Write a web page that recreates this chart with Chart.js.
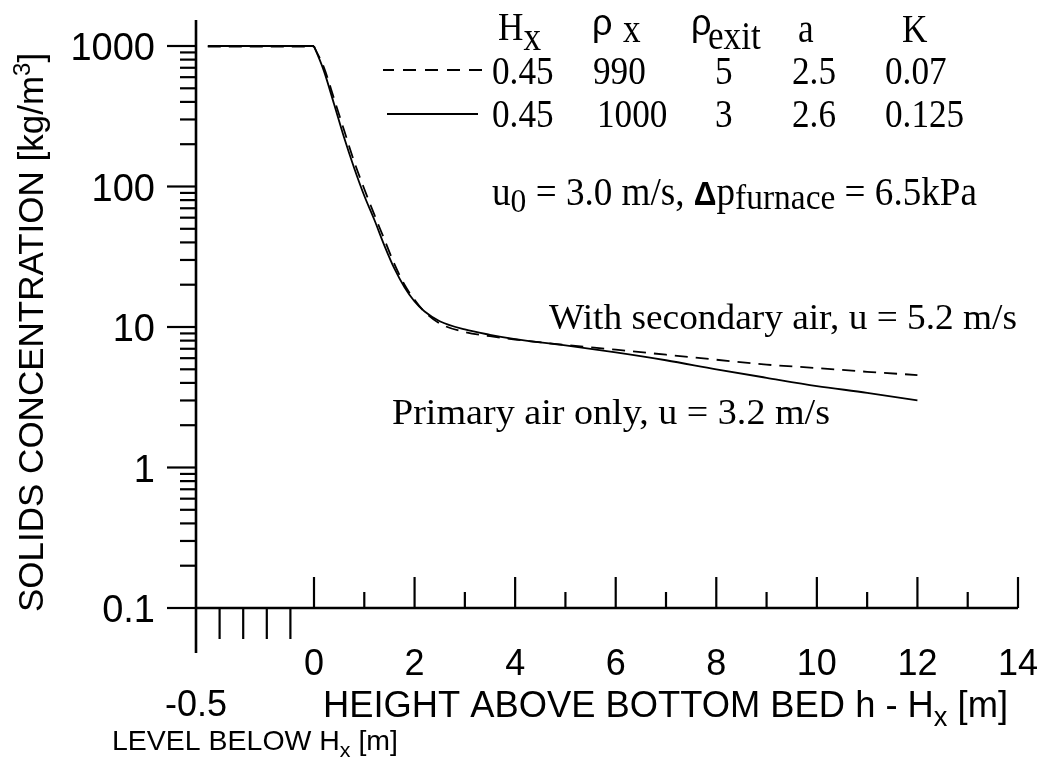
<!DOCTYPE html>
<html>
<head>
<meta charset="utf-8">
<script src="https://cdn.jsdelivr.net/npm/chart.js@4/dist/chart.umd.min.js"></script>
<style>
  html, body { margin: 0; padding: 0; background: #fff; }
  #wrap { width: 1054px; height: 760px; }
</style>
</head>
<body>
<div id="wrap"><canvas id="c" width="1054" height="760"></canvas></div>
<script>
// ---- data -------------------------------------------------------------
// dense bottom bed (below H_x), height relative to H_x in m
const bedHeights = [-0.45, 0];
// freeboard, h - H_x in m
const heights = [0, 0.2, 0.4, 0.6, 0.8, 1.0, 1.2, 1.4, 1.6, 1.8, 2.0, 2.2, 2.5, 3.0, 3.5, 4.0, 5.0, 6.0, 7.0, 8.0, 9.0, 10.0, 11.0, 12.0];

// secondary air case (dashed), kg/m3
const secondaryBed = [990, 990];
const secondaryConc = [990, 700, 420, 250, 150, 96, 63, 42, 28, 20, 15.6, 12.8, 10.6, 9.2, 8.6, 8.15, 7.45, 6.9, 6.35, 5.85, 5.4, 5.1, 4.8, 4.55];

// primary air only (solid), kg/m3
const primaryBed = [1000, 1000];
const primaryConc = [1000, 660, 385, 222, 135, 86, 58, 38, 26, 19.2, 15.2, 12.9, 11.0, 9.6, 8.8, 8.2, 7.4, 6.6, 5.8, 5.0, 4.35, 3.8, 3.4, 3.0];

// axis ticks
const yMajorTicks = [0.1, 1, 10, 100, 1000];
const yTickLabels = ['0.1', '1', '10', '100', '1000'];
const xMajorTicks = [0, 2, 4, 6, 8, 10, 12, 14];
const xTickLabels = ['0', '2', '4', '6', '8', '10', '12', '14'];
const xMinorTicks = [1, 3, 5, 7, 9, 11, 13];
const bedTicks = [-0.4, -0.3, -0.2, -0.1];

// parameter table
const colHx = ['0.45', '0.45'];
const colRhoX = ['990', '1000'];
const colRhoExit = ['5', '3'];
const colA = ['2.5', '2.6'];
const colK = ['0.07', '0.125'];

const SANS = '"Liberation Sans", Arial, Helvetica, sans-serif';
const SERIF = '"Liberation Serif", "Times New Roman", Times, serif';

// ---- x scale: bed region (-0.5..0) stretched, freeboard (0..14) linear --
class SplitLinearScale extends Chart.LinearScale {
  static id = 'splitLinear';
  _breakPx() {
    const f = this.options.breakFraction ?? 0.15;
    return this.left + (this.right - this.left) * f;
  }
  getPixelForValue(value) {
    const b = this.options.breakValue ?? 0;
    const bx = this._breakPx();
    if (value <= b) {
      return this.left + (value - this.min) / (b - this.min) * (bx - this.left);
    }
    return bx + (value - b) / (this.max - b) * (this.right - bx);
  }
  getValueForPixel(pixel) {
    const b = this.options.breakValue ?? 0;
    const bx = this._breakPx();
    if (pixel <= bx) {
      return this.min + (pixel - this.left) / (bx - this.left) * (b - this.min);
    }
    return b + (pixel - bx) / (this.right - bx) * (this.max - b);
  }
}
Chart.register(SplitLinearScale);

const pts = (xs, ys) => xs.map((x, i) => ({ x, y: ys[i] }));

// ---- text helper: runs of [text, font, dy] drawn left to right ----------
function drawRich(ctx, parts, x, y, opt = {}) {
  const align = opt.align || 'left';
  ctx.save();
  let w = 0;
  for (const p of parts) { ctx.font = p[1]; w += ctx.measureText(p[0]).width; }
  const sx = opt.width ? opt.width / w : (opt.scaleX || 1);
  ctx.translate(x, y);
  if (opt.rotate) ctx.rotate(opt.rotate);
  ctx.scale(sx, 1);
  let cx = align === 'right' ? -w : align === 'center' ? -w / 2 : 0;
  ctx.textAlign = 'left';
  ctx.textBaseline = 'alphabetic';
  ctx.fillStyle = '#000';
  for (const p of parts) {
    ctx.font = p[1];
    ctx.fillText(p[0], cx, p[2] || 0);
    cx += ctx.measureText(p[0]).width;
  }
  ctx.restore();
}

function seg(ctx, x1, y1, x2, y2) {
  ctx.beginPath(); ctx.moveTo(x1, y1); ctx.lineTo(x2, y2); ctx.stroke();
}

// ---- axes, ticks and labels --------------------------------------------
const axesPlugin = {
  id: 'axesFrame',
  afterDraw(chart) {
    const { ctx } = chart;
    const xs = chart.scales.x, ys = chart.scales.y;
    const ax = xs.getPixelForValue(-0.5);
    const ay = ys.getPixelForValue(0.1);
    const xEnd = xs.getPixelForValue(14);
    ctx.save();
    ctx.strokeStyle = '#000';
    ctx.lineCap = 'butt';

    ctx.lineWidth = 2.6;
    seg(ctx, ax, 20, ax, 653);
    seg(ctx, ax, ay, xEnd, ay);

    ctx.lineWidth = 2.2;
    // y ticks (log decades with 2..9 minors)
    yMajorTicks.forEach((d, i) => {
      const py = ys.getPixelForValue(d);
      seg(ctx, ax - 29, py, ax, py);
      if (i < yMajorTicks.length - 1) {
        for (let m = 2; m <= 9; m++) {
          const pm = ys.getPixelForValue(d * m);
          seg(ctx, ax - 16, pm, ax, pm);
        }
      }
      drawRich(ctx, [[yTickLabels[i], '38px ' + SANS]], 155, py + 14, { align: 'right' });
    });

    // x ticks above the axis
    xMajorTicks.forEach((v, i) => {
      const px = xs.getPixelForValue(v);
      seg(ctx, px, ay, px, ay - 31);
      drawRich(ctx, [[xTickLabels[i], '36px ' + SANS]], px, 675, { align: 'center' });
    });
    xMinorTicks.forEach(v => {
      const px = xs.getPixelForValue(v);
      seg(ctx, px, ay, px, ay - 16);
    });
    // bed-level ticks below the axis
    bedTicks.forEach(v => {
      const px = xs.getPixelForValue(v);
      seg(ctx, px, ay, px, ay + 31);
    });
    drawRich(ctx, [['-0.5', '36px ' + SANS]], ax, 716, { align: 'center' });

    // axis titles
    drawRich(ctx, [
      ['HEIGHT ABOVE BOTTOM BED h - H', '36px ' + SANS],
      ['x', '27px ' + SANS, 9],
      [' [m]', '36px ' + SANS]
    ], 323, 717, { width: 685 });
    drawRich(ctx, [
      ['LEVEL BELOW H', '28px ' + SANS],
      ['x', '21px ' + SANS, 7],
      [' [m]', '28px ' + SANS]
    ], 112, 750, { width: 286 });
    drawRich(ctx, [
      ['SOLIDS CONCENTRATION [kg/m', '35px ' + SANS],
      ['3', '24px ' + SANS, -13],
      [']', '35px ' + SANS]
    ], 43, 612, { rotate: -Math.PI / 2 });

    // parameter table
    const F = '40px ' + SERIF;
    const SX = 0.88;
    drawRich(ctx, [['H', F], ['x', F, 10]], 498, 40, { scaleX: SX });
    drawRich(ctx, [['ρ', '36px ' + SANS]], 592, 35);
    drawRich(ctx, [['x', F]], 623, 42, { scaleX: SX });
    drawRich(ctx, [['ρ', '36px ' + SANS]], 691, 35);
    drawRich(ctx, [['exit', F]], 708, 49, { scaleX: SX });
    drawRich(ctx, [['a', F]], 798, 42, { scaleX: SX });
    drawRich(ctx, [['K', F]], 902, 42, { scaleX: SX });

    const rowY = [84, 127];
    const colX = [492, null, 715, 792, 885];
    const rhoXLeft = [593, 597];
    for (let r = 0; r < 2; r++) {
      drawRich(ctx, [[colHx[r], F]], colX[0], rowY[r], { scaleX: SX });
      drawRich(ctx, [[colRhoX[r], F]], rhoXLeft[r], rowY[r], { scaleX: SX });
      drawRich(ctx, [[colRhoExit[r], F]], colX[2], rowY[r], { scaleX: SX });
      drawRich(ctx, [[colA[r], F]], colX[3], rowY[r], { scaleX: SX });
      drawRich(ctx, [[colK[r], F]], colX[4], rowY[r], { scaleX: SX });
    }
    // line samples
    ctx.lineWidth = 2;
    ctx.setLineDash([13, 9]);
    seg(ctx, 482, 70, 383, 70);
    ctx.setLineDash([]);
    seg(ctx, 387, 114, 478, 114);

    drawRich(ctx, [
      ['u', F], ['0', '34px ' + SERIF, 7],
      [' = 3.0 m/s, ', F],
      ['Δ', 'bold 34px ' + SANS],
      ['p', F], ['furnace', '36px ' + SERIF, 4],
      [' = 6.5kPa', F]
    ], 492, 205, { width: 485 });

    // curve captions
    drawRich(ctx, [['With secondary air, u = 5.2 m/s', '36px ' + SERIF]], 549, 329, { width: 468 });
    drawRich(ctx, [['Primary air only, u = 3.2 m/s', '36px ' + SERIF]], 392, 424, { width: 438 });

    ctx.restore();
  }
};

const lineBase = { borderColor: '#000', borderWidth: 1.8, pointRadius: 0, fill: false, clip: false };

new Chart(document.getElementById('c').getContext('2d'), {
  type: 'line',
  data: {
    datasets: [
      { ...lineBase, data: pts(bedHeights, secondaryBed), borderDash: [13, 8] },
      { ...lineBase, data: pts(heights, secondaryConc), borderDash: [13, 8], cubicInterpolationMode: 'monotone' },
      { ...lineBase, data: pts(bedHeights, primaryBed) },
      { ...lineBase, data: pts(heights, primaryConc), cubicInterpolationMode: 'monotone' }
    ]
  },
  options: {
    responsive: false,
    animation: false,
    devicePixelRatio: 1,
    layout: { padding: { left: 196, right: 36, top: 46, bottom: 152 } },
    plugins: { legend: { display: false }, tooltip: { enabled: false } },
    scales: {
      x: { type: 'splitLinear', min: -0.5, max: 14, breakValue: 0, breakFraction: 118 / 822, display: false },
      y: { type: 'logarithmic', min: 0.1, max: 1000, display: false }
    }
  },
  plugins: [axesPlugin]
});
</script>
</body>
</html>
